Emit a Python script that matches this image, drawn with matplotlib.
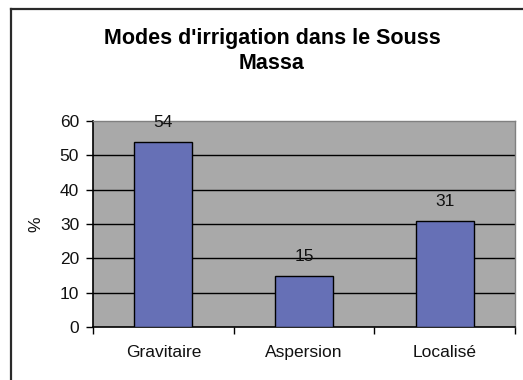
import matplotlib
matplotlib.use("Agg")
import matplotlib.pyplot as plt
from matplotlib.lines import Line2D
from matplotlib.ticker import FixedLocator, NullFormatter

categories = ["Gravitaire", "Aspersion", "Localisé"]
values = [54, 15, 31]
y_ticks = [0, 10, 20, 30, 40, 50, 60]
title = "Modes d'irrigation dans le Souss\nMassa"
y_label = "%"

plt.rcParams["font.family"] = ["Liberation Sans", "DejaVu Sans"]

W, H = 523, 380
fig = plt.figure(figsize=(W / 100, H / 100), dpi=100)
fig.patch.set_facecolor("white")

# outer chart frame (left and top edges)
fig.add_artist(Line2D([11 / W, 11 / W], [0, 1 - 9 / H], transform=fig.transFigure,
                      color="#2a2a2a", lw=1.6))
fig.add_artist(Line2D([11 / W, 1], [1 - 9 / H, 1 - 9 / H], transform=fig.transFigure,
                      color="#2a2a2a", lw=1.6))

ax = fig.add_axes([93 / W, 1 - 327 / H, (515 - 93) / W, (327 - 121) / H])
ax.set_facecolor("#a9a9a9")

x = list(range(len(categories)))
bars = ax.bar(x, values, width=0.41, color="#6670b6", edgecolor="black",
              linewidth=1.0, zorder=3)

ax.set_xlim(-0.5, len(categories) - 0.5)
ax.set_ylim(0, 60)
ax.set_yticks(y_ticks)
ax.set_yticklabels([str(t) for t in y_ticks], fontsize=12.5, color="#111111")

# gridlines at major ticks except the top border
for t in y_ticks[1:-1]:
    ax.axhline(t, color="black", lw=1.0, zorder=1)

# category labels centred, tick marks on category boundaries
ax.set_xticks(x)
ax.set_xticklabels(categories, fontsize=12.5, color="#111111")
ax.tick_params(axis="x", which="major", length=0, pad=13)
ax.xaxis.set_minor_locator(FixedLocator([i - 0.5 for i in range(len(categories) + 1)]))
ax.xaxis.set_minor_formatter(NullFormatter())
ax.tick_params(axis="x", which="minor", length=5, width=1.0, direction="out", color="black")
ax.tick_params(axis="y", length=5, width=1.0, direction="out", pad=5)

for side in ("top", "right"):
    ax.spines[side].set_color("#808080")
    ax.spines[side].set_linewidth(1.0)
for side in ("left", "bottom"):
    ax.spines[side].set_color("black")
    ax.spines[side].set_linewidth(1.2)

ax.set_ylabel(y_label, fontsize=12.5, labelpad=12, color="#111111")

for b, v in zip(bars, values):
    ax.annotate(str(v), (b.get_x() + b.get_width() / 2, v), xytext=(0, 14),
                textcoords="offset points", ha="center", va="center", fontsize=12.5,
                color="#111111", zorder=4)

fig.text(272 / W, 1 - 51 / H, title, ha="center", va="center", fontsize=15.5,
         fontweight="bold", linespacing=1.25)

fig.savefig("out.png", dpi=100)
